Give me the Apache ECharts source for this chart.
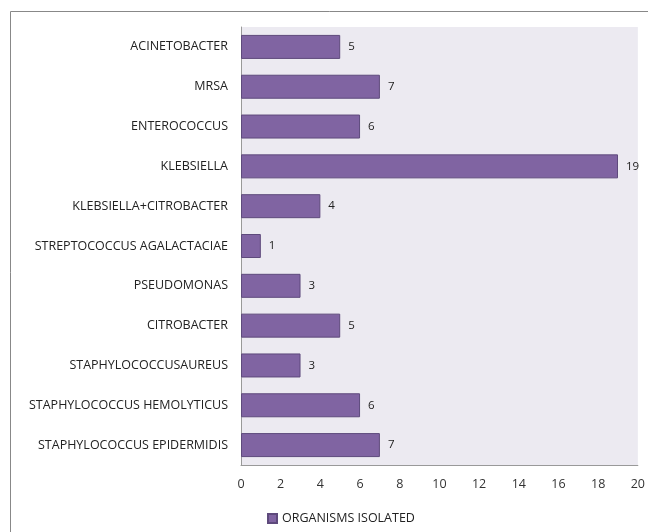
<!DOCTYPE html>
<html><head><meta charset="utf-8">
<script src="https://cdn.jsdelivr.net/npm/echarts@6/dist/echarts.min.js"></script>
<style>html,body{margin:0;padding:0;background:#fff}#c{width:648px;height:532px}</style>
</head><body><div id="c"></div>
<script>
const categories = ["ACINETOBACTER","MRSA","ENTEROCOCCUS","KLEBSIELLA","KLEBSIELLA+CITROBACTER","STREPTOCOCCUS AGALACTACIAE","PSEUDOMONAS","CITROBACTER","STAPHYLOCOCCUSAUREUS","STAPHYLOCOCCUS HEMOLYTICUS","STAPHYLOCOCCUS EPIDERMIDIS"];
const values = [5,7,6,19,4,1,3,5,3,6,7];
const seriesName = "ORGANISMS ISOLATED";
const chart = echarts.init(document.getElementById('c'));
chart.setOption({
  animation:false,
  textStyle:{fontFamily:'Open Sans'},
  graphic:[{type:'rect',shape:{x:10.5,y:11.5,width:700,height:600},style:{fill:null,stroke:'#888',lineWidth:1},z:-1}],
  grid:{left:241,right:10,top:27,bottom:67,show:true,backgroundColor:'#ECEAF1',borderWidth:0},
  legend:{left:262,top:507,itemWidth:9,itemHeight:9,itemGap:4,icon:'rect',textStyle:{fontSize:12.5,color:'#222',fontFamily:'Open Sans'},data:[seriesName]},
  xAxis:{type:'value',min:0,max:20,interval:2,splitLine:{show:false},axisLine:{show:true,lineStyle:{color:'#999'}},axisTick:{show:false},axisLabel:{fontSize:12.5,color:'#333',margin:13}},
  yAxis:{type:'category',data:categories,inverse:true,axisLine:{show:true,lineStyle:{color:'#999'}},axisTick:{show:false},axisLabel:{fontSize:12.5,color:'#222',margin:13}},
  series:[{name:seriesName,type:'bar',data:values,barWidth:24,itemStyle:{color:'#8064A2',borderColor:'#5E4A7C',borderWidth:1},label:{show:true,position:'right',distance:8,fontSize:11.5,color:'#222'}}]
});
</script></body></html>
